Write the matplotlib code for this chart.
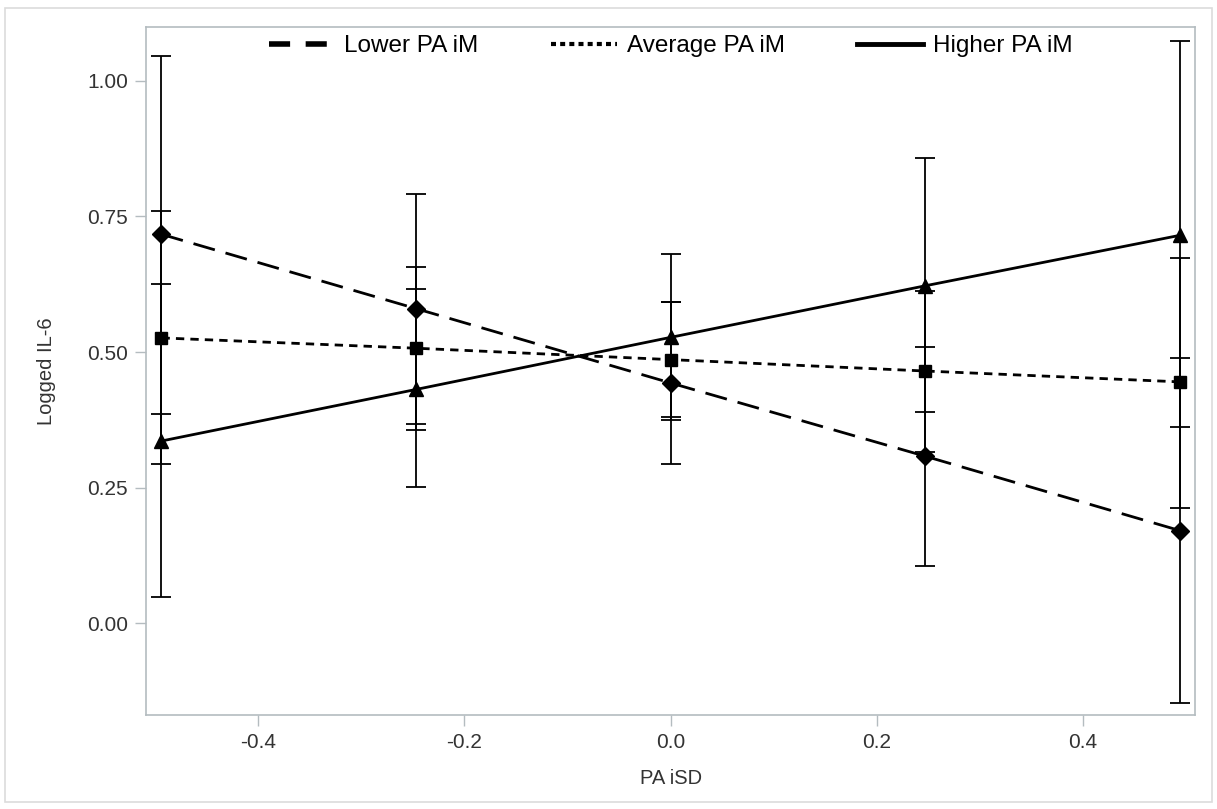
import matplotlib
matplotlib.use("Agg")
import matplotlib.pyplot as plt
from matplotlib.patches import Rectangle
from matplotlib.lines import Line2D
from matplotlib.ticker import FormatStrFormatter
import numpy as np

# -------------------------- Data --------------------------
pa_isd = [-0.494, -0.247, 0.0, 0.247, 0.494]

lower_mean = [0.717, 0.580, 0.443, 0.308, 0.171]
lower_lo = [0.385, 0.368, 0.293, 0.106, -0.146]
lower_hi = [1.046, 0.792, 0.592, 0.510, 0.489]

avg_mean = [0.526, 0.507, 0.486, 0.465, 0.445]
avg_lo = [0.293, 0.357, 0.380, 0.316, 0.213]
avg_hi = [0.760, 0.656, 0.592, 0.613, 0.674]

high_mean = [0.336, 0.431, 0.527, 0.622, 0.715]
high_lo = [0.049, 0.251, 0.375, 0.389, 0.361]
high_hi = [0.625, 0.616, 0.680, 0.857, 1.073]

series_labels = ['Lower PA iM', 'Average PA iM', 'Higher PA iM']
x_ticks = [-0.4, -0.2, 0.0, 0.2, 0.4]
y_ticks = [0.0, 0.25, 0.50, 0.75, 1.00]

# -------------------------- Plot config --------------------------
plt.rcParams['font.family'] = ['Liberation Sans', 'DejaVu Sans']

fig = plt.figure(figsize=(12.17, 8.09), dpi=100)
ax = fig.add_axes([0.120, 0.1162, 0.862, 0.8504])

# light outer frame around the whole graph
fig.patches.append(Rectangle((5 / 1217, 1 - 802 / 809), 1207 / 1217, 794 / 809,
                             transform=fig.transFigure, fill=False,
                             edgecolor='#dcdcdc', linewidth=1.2))

series = [
    (lower_mean, lower_lo, lower_hi, 'D', (0, (8, 4)), 9.5),
    (avg_mean, avg_lo, avg_hi, 's', (0, (3, 2.2)), 8),
    (high_mean, high_lo, high_hi, '^', '-', 9.5),
]

x = np.array(pa_isd)
for (mean, lo, hi, mk, ls, ms), lab in zip(series, series_labels):
    mean = np.array(mean)
    yerr = [mean - np.array(lo), np.array(hi) - mean]
    ax.errorbar(x, mean, yerr=yerr, fmt='none', ecolor='black',
                elinewidth=1.3, capsize=7.2, capthick=1.3, zorder=2)
    ax.plot(x, mean, color='black', linestyle=ls, linewidth=2.0,
            marker=mk, markersize=ms, markerfacecolor='black',
            markeredgecolor='black', label=lab, zorder=3)

# legend handles drawn without markers, thicker lines
leg_handles = [
    Line2D([], [], color='black', linestyle=(0, (3.8, 2.8)), linewidth=4.0),
    Line2D([], [], color='black', linestyle=(0, (1.2, 1.0)), linewidth=3.0),
    Line2D([], [], color='black', linestyle='-', linewidth=3.5),
]
ax.legend(leg_handles, series_labels, loc='upper center', ncol=3, frameon=False,
          fontsize=17.5, handlelength=2.7, handletextpad=0.4, columnspacing=3.0,
          bbox_to_anchor=(0.5, 1.02))

# Axis settings
ax.set_xlim(-0.509, 0.509)
ax.set_ylim(-0.169, 1.099)
ax.set_xticks(x_ticks)
ax.set_yticks(y_ticks)
ax.xaxis.set_major_formatter(FormatStrFormatter('%.1f'))
ax.yaxis.set_major_formatter(FormatStrFormatter('%.2f'))
ax.tick_params(axis='both', which='major', length=8, width=1, color='#b4bcc0',
               labelcolor='#333333', labelsize=15, pad=5)
for sp in ax.spines.values():
    sp.set_color('#b4bcc0')
    sp.set_linewidth(1.2)

ax.set_xlabel('PA iSD', fontsize=14.5, color='#333333', labelpad=12)
ax.set_ylabel('Logged IL-6', fontsize=14.5, color='#333333', labelpad=22)

plt.savefig('out.png', dpi=100)
